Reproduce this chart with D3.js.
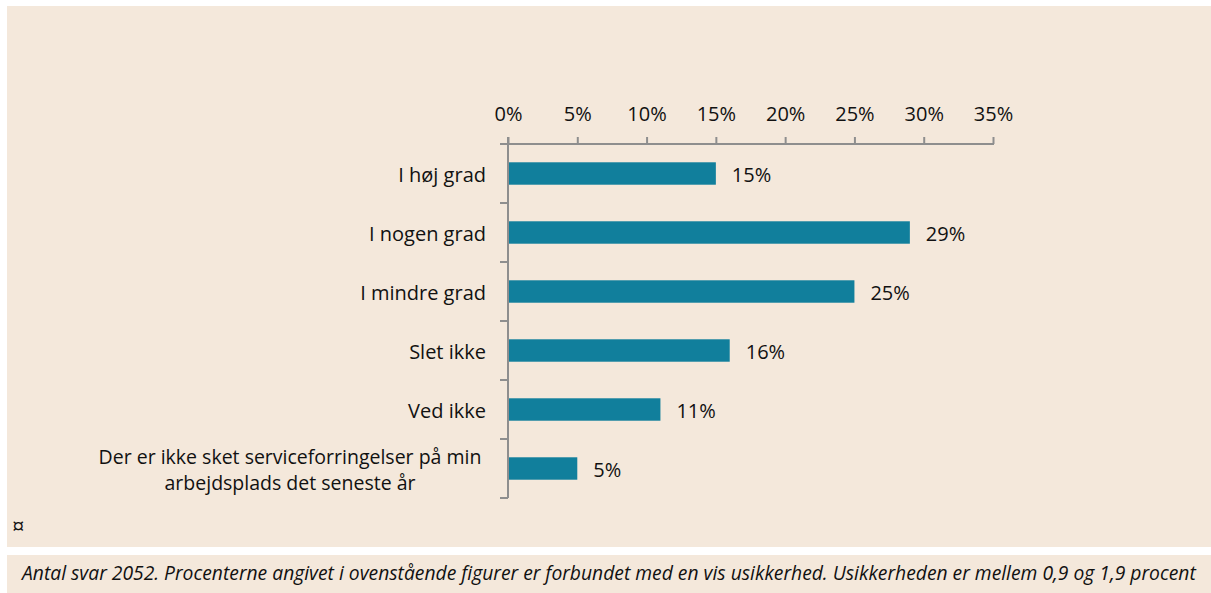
<!DOCTYPE html>
<html>
<head>
<meta charset="utf-8">
<script src="https://cdn.jsdelivr.net/npm/d3@7"></script>
<style>
    body { margin: 0; background: #fff; }
    svg { display: block; }
    text { font-family: "Open Sans", "Noto Sans", sans-serif; fill: #111; }
</style>
</head>
<body>
<svg id="chart" width="1211" height="593"></svg>
<script>
const categories = [
    ["I høj grad"],
    ["I nogen grad"],
    ["I mindre grad"],
    ["Slet ikke"],
    ["Ved ikke"],
    ["Der er ikke sket serviceforringelser på min", "arbejdsplads det seneste år"]
];
const values = [0.15, 0.29, 0.25, 0.16, 0.11, 0.05];
const tickValues = [0, 0.05, 0.10, 0.15, 0.20, 0.25, 0.30, 0.35];
const footnote = "Antal svar 2052.  Procenterne angivet i ovenstående figurer er forbundet med en vis usikkerhed. Usikkerheden er mellem 0,9 og 1,9 procent";

const bg = "#f4e8db";
const barColor = "#117f9c";
const axisColor = "#8e8e8e";

const svg = d3.select("#chart");

// background panels
svg.append("rect").attr("x", 7).attr("y", 6).attr("width", 1204).attr("height", 541).attr("fill", bg);
svg.append("rect").attr("x", 7).attr("y", 555).attr("width", 1204).attr("height", 38).attr("fill", bg);

const x = d3.scaleLinear().domain([0, 0.35]).range([508, 993]);
const y = d3.scaleBand().domain(d3.range(categories.length)).range([144, 498]);
const barH = y.bandwidth() * 0.38;

// bars
svg.append("g").selectAll("rect")
    .data(values)
    .join("rect")
    .attr("x", x(0))
    .attr("y", (d, i) => y(i) + y.bandwidth() / 2 - barH / 2)
    .attr("width", d => x(d) - x(0))
    .attr("height", barH)
    .attr("fill", barColor);

// value labels
svg.append("g").selectAll("text")
    .data(values)
    .join("text")
    .attr("x", d => x(d) + 16)
    .attr("y", (d, i) => y(i) + y.bandwidth() / 2 + 1)
    .attr("dy", "0.36em")
    .style("font-size", "20px")
    .text(d => Math.round(d * 100) + "%");

// top axis
const xAxis = svg.append("g")
    .attr("transform", "translate(0,144)")
    .call(d3.axisTop(x).tickValues(tickValues).tickSize(7).tickPadding(16).tickFormat(d3.format(".0%")));
xAxis.select(".domain").remove();
xAxis.selectAll(".tick line").attr("stroke", axisColor).attr("stroke-width", 2);
xAxis.selectAll(".tick text").style("font-size", "20px").style("font-family", null).attr("fill", "#111");
svg.append("line")
    .attr("x1", 500).attr("x2", x(0.35) + 1)
    .attr("y1", 144).attr("y2", 144)
    .attr("stroke", axisColor).attr("stroke-width", 2);

// left axis
svg.append("line")
    .attr("x1", x(0)).attr("x2", x(0))
    .attr("y1", 137).attr("y2", 498)
    .attr("stroke", axisColor).attr("stroke-width", 2);
const bounds = d3.range(categories.length + 1).map(i => i < categories.length ? y(i) : y.range()[1]);
svg.append("g").selectAll("line")
    .data(bounds)
    .join("line")
    .attr("x1", 500).attr("x2", x(0))
    .attr("y1", d => d).attr("y2", d => d)
    .attr("stroke", axisColor).attr("stroke-width", 2);

// category labels, one text per line
const lines = categories.flatMap((d, i) => d.map((t, j) => ({ t, i, j, n: d.length })));
svg.append("g").selectAll("text")
    .data(lines)
    .join("text")
    .style("font-size", o => o.n > 1 ? "19.5px" : "20px")
    .attr("text-anchor", o => o.n > 1 ? "middle" : "end")
    .attr("x", o => o.n > 1 ? 290 : 486)
    .attr("y", o => y(o.i) + y.bandwidth() / 2 + 8 + (o.j - (o.n - 1) / 2) * 26)
    .text(o => o.t);

// marker and footnote
svg.append("text").attr("x", 12).attr("y", 534).style("font-size", "22px").text("¤");
svg.append("text").attr("x", 22).attr("y", 580)
    .style("font-size", "19.3px").style("font-style", "italic")
    .text(footnote);
</script>
</body>
</html>
